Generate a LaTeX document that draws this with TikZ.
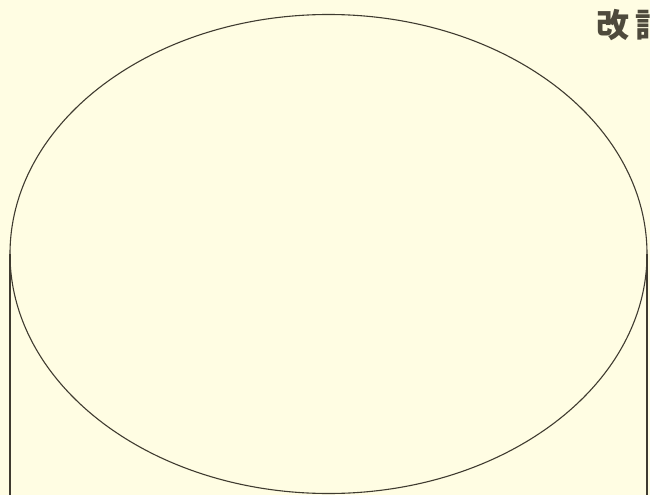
\documentclass[tikz,border=0pt]{standalone}
\usepackage{fontspec}
\newfontfamily\cjk{Noto Sans CJK JP}
\definecolor{paper}{HTML}{FFFDE3}
\definecolor{ink}{HTML}{3F3B30}
\definecolor{titleink}{HTML}{4E4A3C}
\tikzset{outline/.style={draw=ink,line width=1.1pt}}
\begin{document}
\begin{tikzpicture}[x=1pt,y=-1pt]
\useasboundingbox[fill=paper] (0,0) rectangle (650,495);
\coordinate (c) at (328.5,254);
\coordinate (lt) at (10,254);
\coordinate (rt) at (647,254);
\coordinate (lb) at (10,495);
\coordinate (rb) at (647,495);
\draw[outline] (c) ellipse [x radius=318.5pt, y radius=239.5pt];
\draw[outline] (lt) -- (lb);
\draw[outline] (rt) -- (rb);
\node[anchor=west,inner sep=0pt,text=titleink,font=\cjk\bfseries\fontsize{33}{33}\selectfont] (title) at (596,25) {改\hspace{6pt}訂};
\end{tikzpicture}
\end{document}
